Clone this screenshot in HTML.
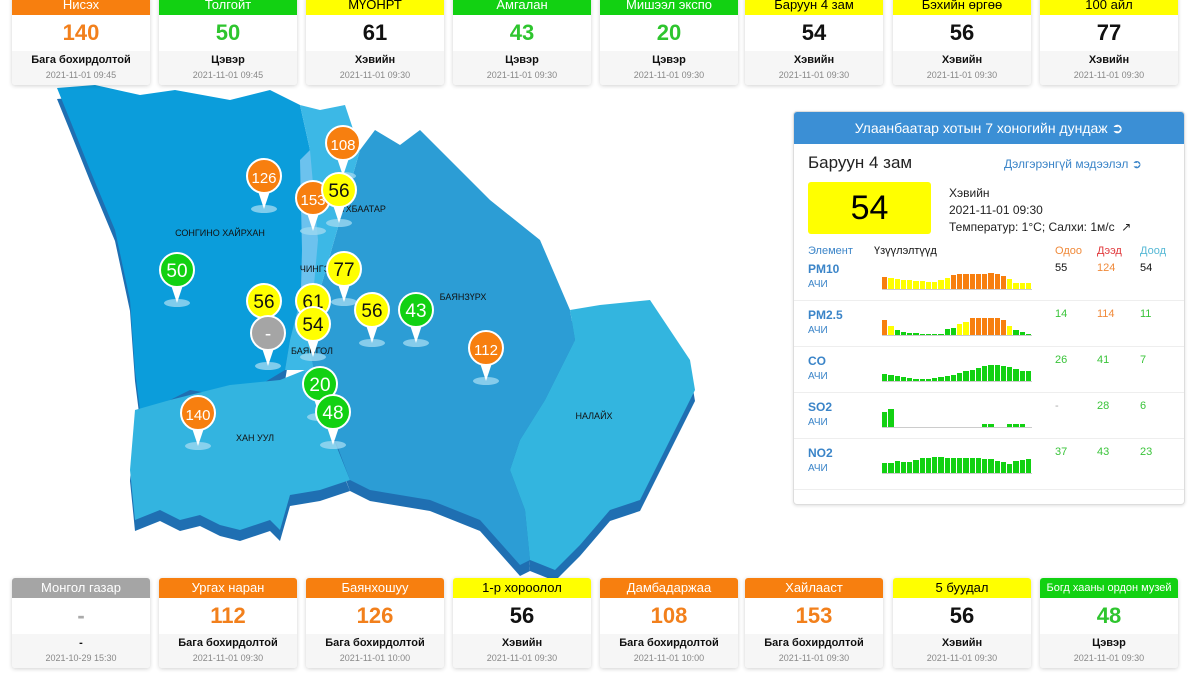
<!DOCTYPE html>
<html><head><meta charset="utf-8"><style>
body{margin:0;width:1197px;height:674px;background:#fff;font-family:"Liberation Sans",sans-serif;position:relative;overflow:hidden}
.card{position:absolute;width:138px;background:#fff;box-shadow:0 1px 4px rgba(0,0,0,.18);border-radius:3px;overflow:hidden;text-align:center}
.card .h{height:20px;line-height:20px;font-size:13px;color:#fff;white-space:nowrap}
.card .v{height:36px;line-height:36px;font-size:22px;font-weight:bold}
.card .b{background:#f6f6f6;height:34px}
.card .l{font-size:11px;font-weight:bold;color:#111;padding-top:3px}
.card .d{font-size:9px;color:#888;margin-top:4px}
.O{background:#f77f0f}.G{background:#12d112}.Y{background:#ffff00;color:#000!important}.S{background:#a5a5a5}
#panel{position:absolute;left:793px;top:111px;width:390px;height:392px;border:1px solid #ddd;border-radius:4px;box-shadow:0 1px 3px rgba(0,0,0,.12);overflow:hidden;font-size:11px}
.abs{position:absolute}
</style></head><body>
<svg class="abs" style="left:0;top:0" width="790" height="580">
<g fill="#1f6fb2" transform="translate(0,11)">
<polygon points="57,88 95,85 140,95 175,90 230,100 270,90 300,105 310,150 300,200 305,250 300,300 290,340 285,370 260,385 220,395 190,390 170,400 140,410 135,370 130,300 115,230 90,170 70,120"/>
<polygon points="135,410 170,400 230,385 280,380 305,370 320,400 330,430 350,480 320,490 290,495 280,530 270,520 240,530 220,525 200,515 180,520 160,510 135,520 130,470"/>
<polygon points="360,150 375,130 400,145 420,130 450,160 490,200 540,240 570,310 575,340 545,400 520,440 510,470 525,510 530,560 520,565 480,520 430,500 370,490 350,480 320,400 310,350 320,290 340,220"/>
<polygon points="570,310 600,305 650,300 670,330 690,360 695,390 680,420 660,460 640,500 610,510 580,545 555,570 530,560 525,510 510,470 520,440 545,400 575,340"/>
</g>
<polygon fill="#0b9ddb" points="57,88 95,85 140,95 175,90 230,100 270,90 300,105 310,150 300,200 305,250 300,300 290,340 285,370 260,385 220,395 190,390 170,400 140,410 135,370 130,300 115,230 90,170 70,120"/>
<polygon fill="#33b4e0" points="135,410 170,400 230,385 280,380 305,370 320,400 330,430 350,480 320,490 290,495 280,530 270,520 240,530 220,525 200,515 180,520 160,510 135,520 130,470"/>
<polygon fill="#2c9dd5" points="360,150 375,130 400,145 420,130 450,160 490,200 540,240 570,310 575,340 545,400 520,440 510,470 525,510 530,560 520,565 480,520 430,500 370,490 350,480 320,400 310,350 320,290 340,220"/>
<polygon fill="#33b5df" points="570,310 600,305 650,300 670,330 690,360 695,390 680,420 660,460 640,500 610,510 580,545 555,570 530,560 525,510 510,470 520,440 545,400 575,340"/>
<polygon fill="#3cb8e6" points="300,105 320,110 345,105 360,150 340,220 320,290 310,350 320,400 305,370 285,370 290,340 300,300 305,250 300,200 310,150"/>
<polygon fill="#6cc2ee" points="300,160 310,150 318,240 310,330 300,330 302,250"/>
<g font-size="9" fill="#111" text-anchor="middle">
<text x="220" y="236">СОНГИНО ХАЙРХАН</text><text x="463" y="300">БАЯНЗҮРХ</text><text x="594" y="419">НАЛАЙХ</text>
<text x="255" y="441">ХАН УУЛ</text><text x="315" y="272">ЧИНГЭ</text><text x="312" y="354">БАЯНГОЛ</text><text x="360" y="212">СҮХБААТАР</text>
</g>
<g id="pins"></g>
</svg>
<div id="cards"></div>
<div id="panel">
<div class="abs" style="left:0;top:0;width:390px;height:32px;background:#3b8fd5;color:#fff;font-size:14px;line-height:32px;text-align:center">Улаанбаатар хотын 7 хоногийн дундаж ➲</div>
<div class="abs" style="left:14px;top:41px;font-size:17px;color:#222">Баруун 4 зам</div>
<div class="abs" style="left:210px;top:45px;font-size:12px;color:#3a84c8">Дэлгэрэнгүй мэдээлэл ➲</div>
<div class="abs" style="left:14px;top:70px;width:123px;height:52px;background:#ffff00;border-radius:3px;font-size:34px;line-height:52px;text-align:center">54</div>
<div class="abs" style="left:155px;top:73px;font-size:12px;line-height:17px;color:#222">Хэвийн<br>2021-11-01 09:30<br>Температур: 1°C; Салхи: 1м/с &nbsp;↗</div>
<div class="abs" style="left:14px;top:133px;color:#3a84c8">Элемент</div>
<div class="abs" style="left:80px;top:133px;color:#111">Үзүүлэлтүүд</div>
<div class="abs" style="left:261px;top:133px;color:#f08a3a">Одоо</div>
<div class="abs" style="left:303px;top:133px;color:#e0383b">Дээд</div>
<div class="abs" style="left:346px;top:133px;color:#55b8d5">Доод</div>
<div id="rows"></div>
</div>
<script>
function card(x,y,cls,h,v,l,d){var vc=cls=='O'?'#f2801c':cls=='G'?'#2ec52e':cls=='S'?'#aaa':'#111';
var fs=h.length>16?'font-size:11px;':'';
return '<div class="card" style="left:'+x+'px;top:'+y+'px"><div class="h '+cls+'" style="'+fs+'">'+h+'</div><div class="v" style="color:'+vc+'">'+v+'</div><div class="b"><div class="l">'+l+'</div><div class="d">'+d+'</div></div></div>';}
var xs=[12,159,306,453,600,745,893,1040],s='';
var T=[['O','Нисэх',140,'Бага бохирдолтой','2021-11-01 09:45'],['G','Толгойт',50,'Цэвэр','2021-11-01 09:45'],['Y','МҮОНРТ',61,'Хэвийн','2021-11-01 09:30'],['G','Амгалан',43,'Цэвэр','2021-11-01 09:30'],['G','Мишээл экспо',20,'Цэвэр','2021-11-01 09:30'],['Y','Баруун 4 зам',54,'Хэвийн','2021-11-01 09:30'],['Y','Бэхийн өргөө',56,'Хэвийн','2021-11-01 09:30'],['Y','100 айл',77,'Хэвийн','2021-11-01 09:30']];
var B=[['S','Монгол газар','-','-','2021-10-29 15:30'],['O','Ургах наран',112,'Бага бохирдолтой','2021-11-01 09:30'],['O','Баянхошуу',126,'Бага бохирдолтой','2021-11-01 10:00'],['Y','1-р хороолол',56,'Хэвийн','2021-11-01 09:30'],['O','Дамбадаржаа',108,'Бага бохирдолтой','2021-11-01 10:00'],['O','Хайлааст',153,'Бага бохирдолтой','2021-11-01 09:30'],['Y','5 буудал',56,'Хэвийн','2021-11-01 09:30'],['G','Богд хааны ордон музей',48,'Цэвэр','2021-11-01 09:30']];
T.forEach(function(t,i){s+=card(xs[i],-5,t[0],t[1],t[2],t[3],t[4])});
B.forEach(function(t,i){s+=card(xs[i],578,t[0],t[1],t[2],t[3],t[4])});
document.getElementById('cards').innerHTML=s;
var P=[[264,176,'O',126],[343,143,'O',108],[313,198,'O',153],[339,190,'Y',56],[177,270,'G',50],[344,269,'Y',77],[264,301,'Y',56],[313,301,'Y',61],[268,333,'S','-'],[313,324,'Y',54],[372,310,'Y',56],[416,310,'G',43],[486,348,'O',112],[320,384,'G',20],[333,412,'G',48],[198,413,'O',140]];
var C={O:'#f77f0f',Y:'#ffff00',G:'#12d112',S:'#a5a5a5'},p='';
P.forEach(function(a){var x=a[0],y=a[1];p+='<ellipse cx="'+x+'" cy="'+(y+33)+'" rx="13" ry="4" fill="#9dd8f0" opacity=".8"/><polygon points="'+(x-7)+','+(y+12)+' '+(x+7)+','+(y+12)+' '+x+','+(y+33)+'" fill="#fff"/><circle cx="'+x+'" cy="'+y+'" r="17" fill="'+C[a[2]]+'" stroke="#fff" stroke-width="2"/><text x="'+x+'" y="'+(y+7)+'" text-anchor="middle" font-size="'+(String(a[3]).length>2?15:19)+'" fill="'+(a[2]=='Y'?'#111':'#fff')+'">'+a[3]+'</text>';});
document.getElementById('pins').innerHTML=p;
var R=[['PM10','55','124','54','#111','#f08a3a','#111',[['O',12],['Y',11],['Y',10],['Y',9],['Y',9],['Y',8],['Y',8],['Y',7],['Y',7],['Y',9],['Y',11],['O',14],['O',15],['O',15],['O',15],['O',15],['O',15],['O',16],['O',15],['O',13],['Y',10],['Y',6],['Y',6],['Y',6]]],
['PM2.5','14','114','11','#3ac43a','#f08a3a','#3ac43a',[['O',15],['Y',9],['G',5],['G',3],['G',2],['G',2],['G',1],['G',1],['G',1],['G',1],['G',6],['G',7],['Y',11],['Y',13],['O',17],['O',17],['O',17],['O',17],['O',17],['O',15],['Y',9],['G',5],['G',3],['G',1]]],
['CO','26','41','7','#3ac43a','#3ac43a','#3ac43a',[['G',7],['G',6],['G',5],['G',4],['G',3],['G',2],['G',2],['G',2],['G',3],['G',4],['G',5],['G',6],['G',8],['G',10],['G',11],['G',13],['G',15],['G',16],['G',16],['G',15],['G',14],['G',12],['G',10],['G',10]]],
['SO2','-','28','6','#aaa','#3ac43a','#3ac43a',[['G',15],['G',18],['G',0],['G',0],['G',0],['G',0],['G',0],['G',0],['G',0],['G',0],['G',0],['G',0],['G',0],['G',0],['G',0],['G',0],['G',3],['G',3],['G',0],['G',0],['G',3],['G',3],['G',3],['G',0]]],
['NO2','37','43','23','#3ac43a','#3ac43a','#3ac43a',[['G',10],['G',10],['G',12],['G',11],['G',11],['G',13],['G',15],['G',15],['G',16],['G',16],['G',15],['G',15],['G',15],['G',15],['G',15],['G',15],['G',14],['G',14],['G',12],['G',11],['G',9],['G',12],['G',13],['G',14]]]];
var r='';
R.forEach(function(a,i){var y=150+i*46;
r+='<div class="abs" style="left:14px;top:'+y+'px;font-size:12px;font-weight:bold;color:#3a84c8">'+a[0]+'</div><div class="abs" style="left:14px;top:'+(y+17)+'px;font-size:10px;color:#3a84c8">АЧИ</div>';
r+='<div class="abs" style="left:261px;top:'+y+'px;color:'+a[4]+'">'+a[1]+'</div><div class="abs" style="left:303px;top:'+y+'px;color:'+a[5]+'">'+a[2]+'</div><div class="abs" style="left:346px;top:'+y+'px;color:'+a[6]+'">'+a[3]+'</div>';
r+='<div class="abs" style="left:88px;top:'+(y+27)+'px;width:150px;height:1px;background:#ccc"></div>';
a[7].forEach(function(b,j){if(b[1])r+='<div class="abs" style="left:'+(88+j*6.25)+'px;top:'+(y+27-b[1])+'px;width:5.3px;height:'+b[1]+'px;background:'+C[b[0]]+'"></div>';});
if(i<4)r+='<div class="abs" style="left:0;top:'+(y+38)+'px;width:390px;height:1px;background:#eee"></div>';});
r+='<div class="abs" style="left:0;top:377px;width:390px;height:1px;background:#eee"></div>';
document.getElementById('rows').innerHTML=r;
</script>
</body></html>
